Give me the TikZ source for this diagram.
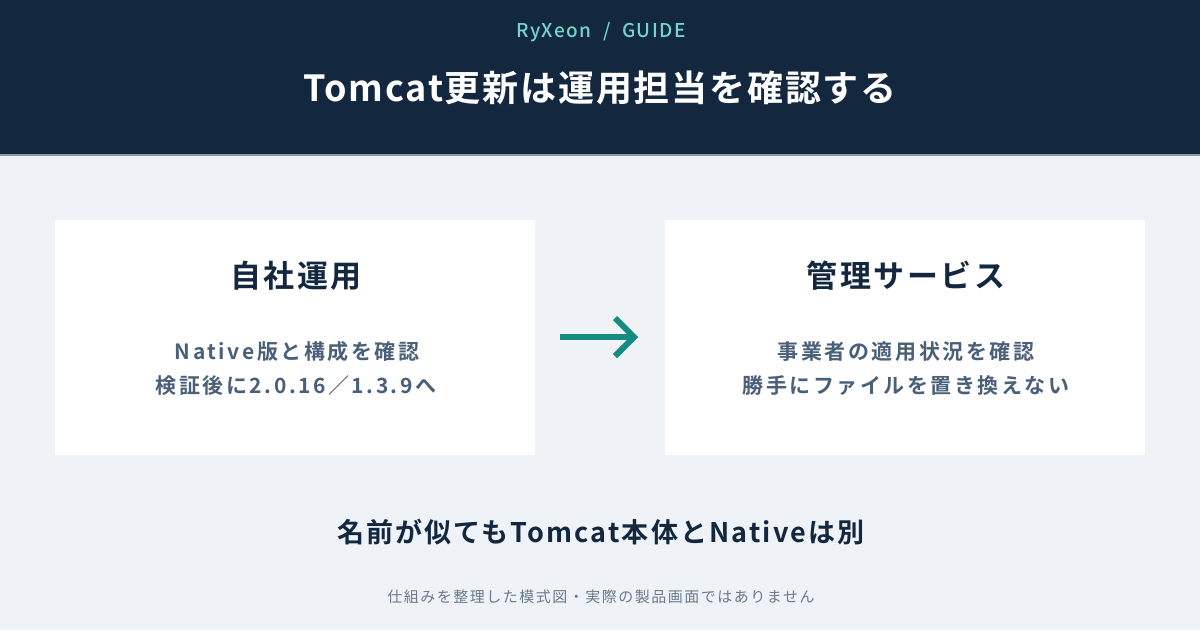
\documentclass[tikz,border=0pt]{standalone}
\usepackage{fontspec}
\setmainfont{Noto Sans CJK JP}[BoldFont={* Bold}]
\newfontfamily\jpmed{Noto Sans CJK JP Medium}
\usetikzlibrary{positioning}
\definecolor{navy}{HTML}{13283F}
\definecolor{bgc}{HTML}{EFF3F8}
\definecolor{tealtxt}{HTML}{74D6CA}
\definecolor{tealarr}{HTML}{148C7F}
\definecolor{bodytxt}{HTML}{4A6078}
\definecolor{foottxt}{HTML}{6B7A8C}
\definecolor{hline}{HTML}{8D99A8}
\tikzset{
  panel/.style={fill=white, draw=none, minimum width=480pt, minimum height=235pt, inner sep=0pt},
  paneltitle/.style={font=\fontsize{31}{36}\selectfont\bfseries\addfontfeature{LetterSpace=8}, text=navy, inner sep=0pt},
  paneltext/.style={font=\fontsize{21}{34}\selectfont\bfseries\addfontfeature{LetterSpace=12}, text=bodytxt, align=center, inner sep=0pt},
}
\begin{document}
\begin{tikzpicture}[x=1pt,y=-1pt]
\useasboundingbox (0,0) rectangle (1200,630);
\fill[bgc] (0,0) rectangle (1200,630);
\fill[navy] (0,0) rectangle (1200,155);
\draw[hline, line width=1.5pt] (0,155) -- (1200,155);
\node[font=\jpmed\fontsize{19}{22}\selectfont\addfontfeature{LetterSpace=8}, text=tealtxt, inner sep=0pt] (brand) at (601,32) {RyXeon\hspace{0.6em}/\hspace{0.6em}GUIDE};
\node[font=\fontsize{36}{40}\selectfont\bfseries\addfontfeature{LetterSpace=5}, text=white, inner sep=0pt] (title) at (600,88) {Tomcat更新は運用担当を確認する};
\node[panel] (left) at (295,337.5) {};
\node[panel] (right) at (905,337.5) {};
\node[paneltitle] (lt) at (296,276) {自社運用};
\node[paneltitle] (rt) at (906,276) {管理サービス};
\node[paneltext] (l1) at (297,352) {Native版と構成を確認};
\node[paneltext] (l2) at (296,386) {検証後に2.0.16／1.3.9へ};
\node[paneltext] (r1) at (906,352) {事業者の適用状況を確認};
\node[paneltext] (r2) at (906,386) {勝手にファイルを置き換えない};
\coordinate (as) at (560,337);
\coordinate (ae) at (634,337);
\draw[tealarr, line width=6pt] (as) -- (ae);
\draw[tealarr, line width=6pt, line join=miter] (615,318) -- (ae) -- (615,356);
\node[font=\fontsize{27}{32}\selectfont\bfseries\addfontfeature{LetterSpace=8}, text=navy, inner sep=0pt] (note) at (601,532) {名前が似てもTomcat本体とNativeは別};
\node[font=\fontsize{15}{18}\selectfont\addfontfeature{LetterSpace=10}, text=foottxt, inner sep=0pt] (foot) at (601,597) {仕組みを整理した模式図・実際の製品画面ではありません};
\end{tikzpicture}
\end{document}
